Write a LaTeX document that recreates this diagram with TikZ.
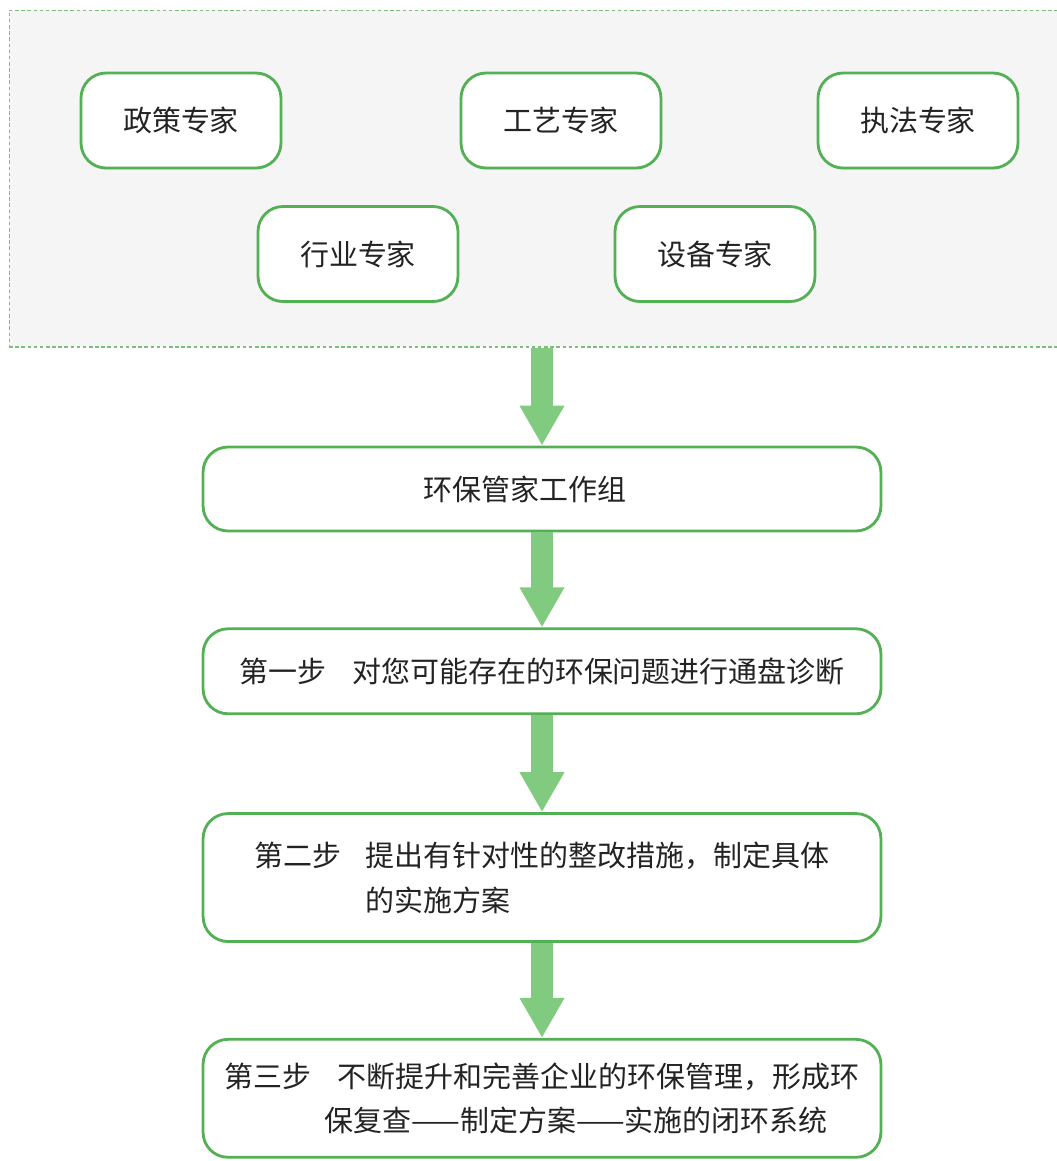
\documentclass[tikz,border=0pt]{standalone}
\usepackage{fontspec}
\setmainfont{Noto Sans CJK SC}
\usetikzlibrary{arrows.meta,positioning,shadows}
\definecolor{boxgreen}{RGB}{84,176,84}
\definecolor{flowgreen}{RGB}{128,203,128}
\definecolor{framegreen}{RGB}{125,190,125}
\definecolor{framegray}{RGB}{245,245,245}
\definecolor{textgray}{RGB}{35,35,35}
\tikzstyle{expert} = [rectangle, draw=boxgreen, line width=1.6pt, fill=white,
    rounded corners=0.5cm, minimum width=4cm, minimum height=1.9cm, text=textgray,
    drop shadow={shadow xshift=0pt, shadow yshift=-1pt, fill=black!15}]
\tikzstyle{stepbox} = [rectangle, draw=boxgreen, line width=1.6pt, fill=white,
    rounded corners=0.5cm, minimum width=13.56cm, text=textgray, align=left]
\tikzstyle{flow} = [draw=flowgreen, line width=0.44cm,
    -{Triangle[width=0.84cm,length=0.8cm]}]

\begin{document}
\begin{tikzpicture}[x=0.02cm,y=-0.02cm,node distance=1.9cm,
                    font=\fontsize{16.5}{25.5}\selectfont]
  \useasboundingbox (0,0) rectangle (1057,1161);

  \node[draw=framegreen, dash pattern=on 2pt off 1.5pt, line width=0.6pt, fill=framegray,
        minimum width=21.02cm, minimum height=6.74cm] (experts) at (534.5,178.5) {};

  \node[expert] (policy) at (181,120.5) {政策专家};
  \node[expert] (craft)  at (561,120.5) {工艺专家};
  \node[expert] (law)    at (918,120.5) {执法专家};
  \node[expert] (trade)  at (358,254)   {行业专家};
  \node[expert] (equip)  at (715,254)   {设备专家};

  \node[stepbox, minimum height=1.68cm] (group) at (542,489) {环保管家工作组\hspace*{1.2em}};
  \node[stepbox, minimum height=1.7cm, below=of group] (s1)
       {\makebox[3.9em][l]{第一步}对您可能存在的环保问题进行通盘诊断};
  \node[stepbox, minimum height=2.56cm, below=1.94cm of s1] (s2)
       {\makebox[3.85em][l]{第二步}提出有针对性的整改措施，制定具体\\
        \hspace*{3.85em}的实施方案};
  \node[stepbox, minimum height=2.36cm, below=of s2] (s3)
       {\makebox[3.9em][l]{第三步}不断提升和完善企业的环保管理，形成环\\
        \hspace*{3.45em}保复查——制定方案——实施的闭环系统};

  \draw[flow] (group.north |- experts.south) -- (group.north);
  \draw[flow] (group.south) -- (s1.north);
  \draw[flow] (s1.south) -- (s2.north);
  \draw[flow] (s2.south) -- (s3.north);
\end{tikzpicture}
\end{document}
